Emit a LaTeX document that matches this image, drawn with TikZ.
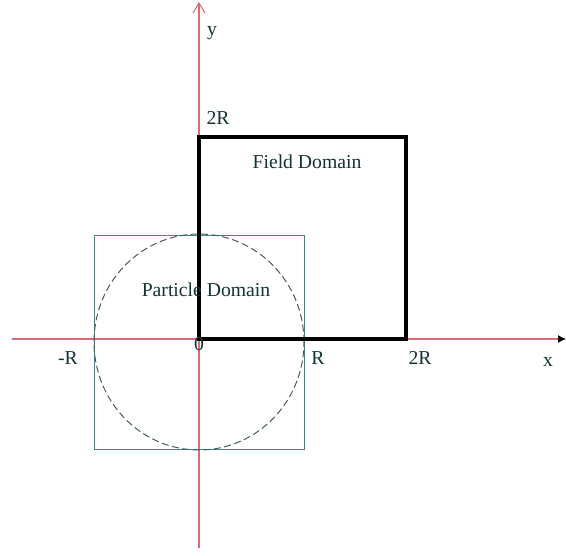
\documentclass[tikz,border=0pt]{standalone}
\usepackage{fontspec}
\setmainfont{Liberation Serif}
\usepackage{xcolor}
\definecolor{axRed}{RGB}{222,105,118}
\definecolor{domTeal}{RGB}{60,135,140}
\definecolor{inkDark}{RGB}{20,50,50}
\usetikzlibrary{positioning,arrows.meta}

\begin{document}
\begin{tikzpicture}[x=0.025cm,y=0.025cm,
  lbl/.style={font=\fontsize{14}{16}\selectfont,text=inkDark,inner sep=1pt},
  axis/.style={axRed,line width=0.75pt},
  field/.style={draw=black,line width=2.2pt},
  part/.style={draw=domTeal,line width=0.7pt},
  circ/.style={draw=inkDark!80,dash pattern=on 5pt off 2.5pt,line width=0.7pt}]
  \useasboundingbox (-199,-216) rectangle (367,339);
  % reference points, R = 105
  \coordinate (O) at (0,0);
  \coordinate (xl) at (-187,0);
  \coordinate (xr) at (367,0);
  \coordinate (yb) at (0,-209);
  \coordinate (yt) at (0,337);
  \coordinate (fd1) at (207,202);
  \coordinate (pd0) at (-105,-110);
  \coordinate (pd1) at (105,104);

  \draw[axis,-{Latex[length=2mm,width=2mm,black]}] (xl) -- (xr);
  \draw[axis,-{Straight Barb[length=2.5mm,width=3mm]}] (yb) -- (yt);
  \draw[part] (pd0) rectangle (pd1);
  \draw[circ] (0,-3) ellipse [x radius=105,y radius=108];
  \draw[field] (O) rectangle (fd1);

  \node[lbl] (ylab) at (13,306) {y};
  \node[lbl] (ytwoR) at (19,221) {2R};
  \node[lbl] (fdlab) at (108,177) {Field Domain};
  \node[lbl] (pdlab) at (7,49) {Particle Domain};
  \node[lbl] (mR) at (-131,-19) {-R};
  \node[lbl] (zero) at (0,-5) {0};
  \node[lbl] (pR) at (119,-19) {R};
  \node[lbl] (xtwoR) at (221,-19) {2R};
  \node[lbl] (xlab) at (349,-23) {x};
\end{tikzpicture}
\end{document}
